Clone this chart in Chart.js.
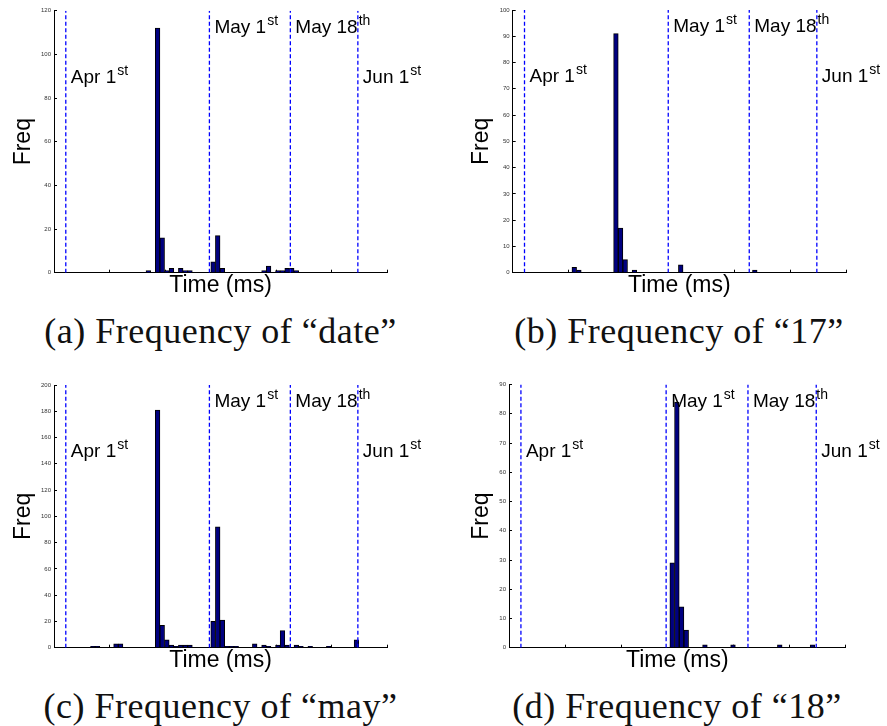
<!DOCTYPE html>
<html>
<head>
<meta charset="utf-8">
<script src="https://cdn.jsdelivr.net/npm/chart.js@4.4.1/dist/chart.umd.min.js"></script>
<style>
  body { margin: 0; background: #fff; width: 887px; height: 726px; position: relative; overflow: hidden; }
  canvas { position: absolute; }
  .caption {
    position: absolute; width: 440px; text-align: center; white-space: nowrap;
    font-family: "Liberation Serif", "Times New Roman", serif; font-size: 36px;
    letter-spacing: 0.5px; line-height: 40px; color: #111;
  }
</style>
</head>
<body>
<canvas id="chartA" width="440" height="300" style="left:0;top:0"></canvas>
<canvas id="chartB" width="447" height="300" style="left:440px;top:0"></canvas>
<canvas id="chartC" width="440" height="300" style="left:0;top:375px"></canvas>
<canvas id="chartD" width="447" height="300" style="left:440px;top:375px"></canvas>
<div class="caption" style="left:0.5px;top:311px">(a) Frequency of “date”</div>
<div class="caption" style="left:459px;top:311px">(b) Frequency of “17”</div>
<div class="caption" style="left:0.5px;top:686px">(c) Frequency of “may”</div>
<div class="caption" style="left:457px;top:686px">(d) Frequency of “18”</div>
<script>
// histogram bins (day index on the time axis) and counts
const dateBins = [20, 22, 23, 24, 25, 27, 28, 29, 34, 35, 36, 45, 46, 48, 49, 50, 51, 52];
const dateFreq = [1, 112, 16, 1, 2, 2, 1, 1, 5, 17, 2, 1, 3, 1, 1, 2, 2, 1];

const b17Bins = [13, 14, 22, 23, 24, 26, 36, 52];
const b17Freq = [2, 1, 91, 17, 5, 1, 3, 1];

const mayBins = [8, 9, 13, 14, 22, 23, 24, 25, 26, 27, 28, 29, 34, 35, 36, 37, 38, 39, 43, 45, 46, 48, 49, 50, 52, 53, 55, 59, 65];
const mayFreq = [1, 1, 3, 3, 181, 17, 6, 2, 1, 2, 2, 2, 20, 92, 21, 1, 1, 1, 3, 2, 1, 2, 13, 2, 2, 1, 1, 1, 6];

const b18Bins = [34, 35, 36, 37, 41, 47, 57, 64];
const b18Freq = [29, 84, 14, 6, 1, 1, 1, 1];

// date markers (dashed lines)
const markerDays = [2.55, 33.6, 51.1, 65.7];
const markerText = ['Apr 1', 'May 1', 'May 18', 'Jun 1'];
const markerSup = ['st', 'st', 'th', 'st'];
const markerRow = [72, 22, 22, 72];

const sans = '"Liberation Sans", Arial, sans-serif';

const markerLabels = {
  id: 'markerLabels',
  afterDatasetsDraw(chart) {
    const {ctx, chartArea, scales: {x}} = chart;
    ctx.save();
    ctx.fillStyle = '#000';
    ctx.textBaseline = 'alphabetic';
    ctx.textAlign = 'left';
    markerDays.forEach((d, i) => {
      const px = x.getPixelForValue(d) + 5;
      const py = chartArea.top + markerRow[i];
      ctx.font = '19px ' + sans;
      ctx.fillText(markerText[i], px, py);
      const w = ctx.measureText(markerText[i]).width;
      ctx.font = '14px ' + sans;
      ctx.fillText(markerSup[i], px + w + 1, py - 8);
    });
    ctx.restore();
  }
};

function makePanel(id, bins, freq, shift, yMax, yStep, box) {
  const bars = bins.map((b, i) => ({x: b + shift, y: freq[i]}));
  const lines = markerDays.map(d => ({
    type: 'line',
    data: [{x: d, y: 0}, {x: d, y: yMax}],
    borderColor: '#0000ff',
    borderWidth: 1.3,
    borderDash: [4, 2.5],
    pointRadius: 0,
    fill: false,
    order: 0
  }));

  new Chart(document.getElementById(id), {
    type: 'bar',
    data: {
      datasets: [{
        data: bars,
        backgroundColor: '#000080',
        borderColor: '#000',
        borderWidth: 1,
        barPercentage: 1,
        categoryPercentage: 1,
        order: 1
      }, ...lines]
    },
    options: {
      responsive: false,
      animation: false,
      layout: { padding: { left: 0, top: box.top, right: box.right, bottom: 0 } },
      plugins: { legend: { display: false }, tooltip: { enabled: false } },
      scales: {
        x: {
          type: 'linear', min: 0, max: 72, offset: false,
          grid: { drawOnChartArea: false, tickLength: -3, tickColor: '#000', offset: false },
          border: { color: '#000', width: 1 },
          ticks: { display: false, stepSize: 12 },
          title: { display: true, text: 'Time (ms)', color: '#000',
                   font: { family: sans, size: 23 }, padding: { top: 0, bottom: 0.7 } },
          afterFit: s => { s.height = box.xh; }
        },
        y: {
          min: 0, max: yMax,
          grid: { drawOnChartArea: false, tickLength: -3, tickColor: '#000' },
          border: { color: '#000', width: 1 },
          ticks: { stepSize: yStep, padding: 6, color: '#333', font: { family: sans, size: 6 } },
          title: { display: true, text: 'Freq', color: '#000',
                   font: { family: sans, size: 23 }, padding: { top: box.freqPad, bottom: 0 } },
          afterFit: s => { s.width = box.left; }
        }
      }
    },
    plugins: [markerLabels]
  });
}

makePanel('chartA', dateBins, dateFreq, 0.4, 120, 20, { left: 54, top: 10.7, right: 53, xh: 27.3, freqPad: 9.5 });
makePanel('chartB', b17Bins, b17Freq, 0.3, 100, 10, { left: 72.7, top: 10, right: 41, xh: 27.3, freqPad: 28.2 });
makePanel('chartC', mayBins, mayFreq, 0.4, 200, 20, { left: 54, top: 10, right: 53, xh: 27.3, freqPad: 9.5 });
makePanel('chartD', b18Bins, b18Freq, 0.9, 90, 10, { left: 69, top: 6.7, right: 41.3, xh: 27.3, freqPad: 28.2 });
</script>
</body>
</html>
